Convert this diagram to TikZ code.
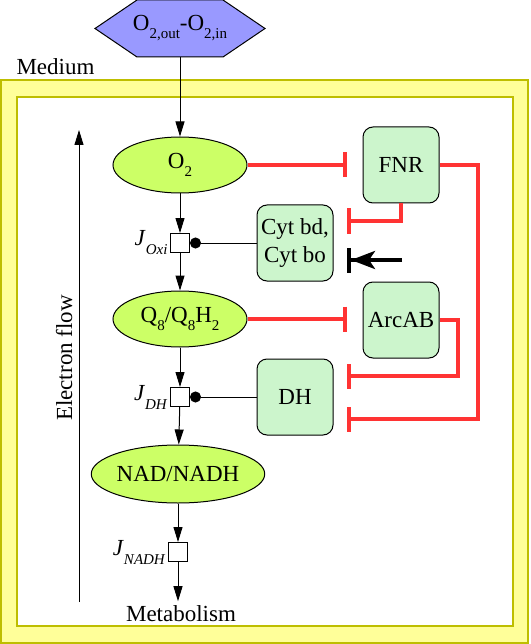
\documentclass[tikz,border=0pt]{standalone}
\usepackage{fontspec}
\setmainfont{LiberationSerif}[Extension=.ttf, UprightFont=*-Regular, ItalicFont=*-Italic, BoldFont=*-Bold]
\usepackage{tikz}
\usetikzlibrary{shapes.geometric, arrows.meta, positioning, calc}
\definecolor{medium_fill}{RGB}{255, 255, 153}
\definecolor{medium_edge}{RGB}{190, 190, 0}
\definecolor{gradient_c}{RGB}{153, 153, 255}
\definecolor{pool_c}{RGB}{204, 255, 102}
\definecolor{regulator_c}{RGB}{204, 245, 204}
\definecolor{inhibit_c}{RGB}{255, 51, 51}
\tikzstyle{arrow} = [line width=1pt, -{Triangle[length=15pt, width=9pt]}]
\tikzstyle{inh} = [inhibit_c, line width=4pt, -{Bar[width=25pt]}]
\tikzstyle{act} = [line width=1pt, -{Circle[length=11pt]}]
\tikzstyle{block} = [line width=4pt, -{Stealth[length=24pt, width=18pt, inset=6pt]Bar[width=25pt]}]
\tikzstyle{metab} = [ellipse, draw, fill=pool_c, minimum width=134pt, minimum height=56pt, inner sep=0pt]
\tikzstyle{regbox} = [rectangle, rounded corners=10pt, draw, fill=regulator_c, minimum width=76pt, minimum height=76pt, inner sep=2pt, align=center]
\tikzstyle{fluxbox} = [rectangle, draw, fill=white, minimum size=19pt, inner sep=0pt]
\newcommand{\lowsub}[1]{\raisebox{-8pt}{\fontsize{15}{15}\selectfont #1}}
\newcommand{\jflux}[1]{\textit{J}\raisebox{-9pt}{\fontsize{15}{15}\selectfont\textit{#1}}}

\begin{document}
\begin{tikzpicture}[x=1pt, y=-1pt, line width=1pt, font=\fontsize{23}{28}\selectfont]
\useasboundingbox (0,0) rectangle (530,644);

% Medium
\draw[medium_edge, fill=medium_fill, line width=1.5pt] (1,80) rectangle (528,643);
\draw[medium_edge, fill=white, line width=1.5pt] (17,97) rectangle (513,626);
\node[anchor=base west, inner sep=0pt] (medium) at (16,75) {Medium};

% Oxygen gradient
\draw[fill=gradient_c] (95,28.5) -- (137,0) -- (223,0) -- (265,28.5) -- (223,57) -- (137,57) -- cycle;
\node[minimum width=170pt, minimum height=57pt, inner sep=0pt] (gradient) at (180,28.5) {O\lowsub{2,out}-O\lowsub{2,in}};

% Pools and fluxes
\node[metab] (O2) at (180,165) {O\lowsub{2}};
\node[fluxbox] (Joxi) at (180,243) {};
\node[metab] (Q8) at (180,319) {Q\lowsub{8}/Q\lowsub{8}H\lowsub{2}};
\node[fluxbox] (Jdh) at (180,397) {};
\node[metab, minimum width=130pt, minimum height=58pt] (NAD) at (178,474) {NAD/NADH};
\node[fluxbox] (Jnadh) at (178,552) {};
\node[anchor=base] (metabolism) at (181,621) {Metabolism};

\node[left=1pt of Joxi, inner sep=1pt] (JoxiLabel) {\jflux{Oxi}};
\node[left=1pt of Jdh, inner sep=1pt] (JdhLabel) {\jflux{DH}};
\node[left=1pt of Jnadh, inner sep=1pt] (JnadhLabel) {\jflux{NADH}};

% Regulators
\node[regbox] (FNR) at (401,165) {FNR};
\node[regbox] (Cyt) at (295,243) {Cyt bd,\\Cyt bo};
\node[regbox] (ArcAB) at (401,320) {ArcAB};
\node[regbox] (DH) at (295,397) {DH};

% Inhibition ends
\coordinate (toFNR) at (347,165);
\coordinate (toCyt) at (347,221);
\coordinate (blockCyt) at (347,260);
\coordinate (toArc) at (347,319);
\coordinate (toDHa) at (347,376);
\coordinate (toDHb) at (347,419);

% Electron flow
\coordinate (flowStart) at (79,602);
\coordinate (flowEnd) at (79,130);
\draw[arrow] (flowStart) -- (flowEnd);
\node[rotate=90, anchor=base, inner sep=0pt] (flowLabel) at (72,358) {Electron flow};

% Arrows
\draw[arrow] (gradient.south) -- (O2);
\draw[arrow] (O2) -- (Joxi);
\draw[arrow] (Joxi) -- (Q8);
\draw[arrow] (Q8) -- (Jdh);
\draw[arrow] (Jdh) -- (NAD);
\draw[arrow] (NAD) -- (Jnadh);
\draw[arrow] (Jnadh) -- (Jnadh |- metabolism.north);

\draw[act] (Cyt.west) -- (Joxi.east);
\draw[act] (DH.west) -- (Jdh.east);

\draw[inh] (O2.east) -- (toFNR);
\draw[inh] (FNR.south) |- (toCyt);
\draw[inh] (Q8.east) -- (toArc);
\draw[inh] (ArcAB.east) -- ++(18,0) |- (toDHa);
\draw[inh] (FNR.east) -- ++(38,0) |- (toDHb);
\draw[block] ($(blockCyt)+(55,0)$) -- (blockCyt);

\end{tikzpicture}
\end{document}
